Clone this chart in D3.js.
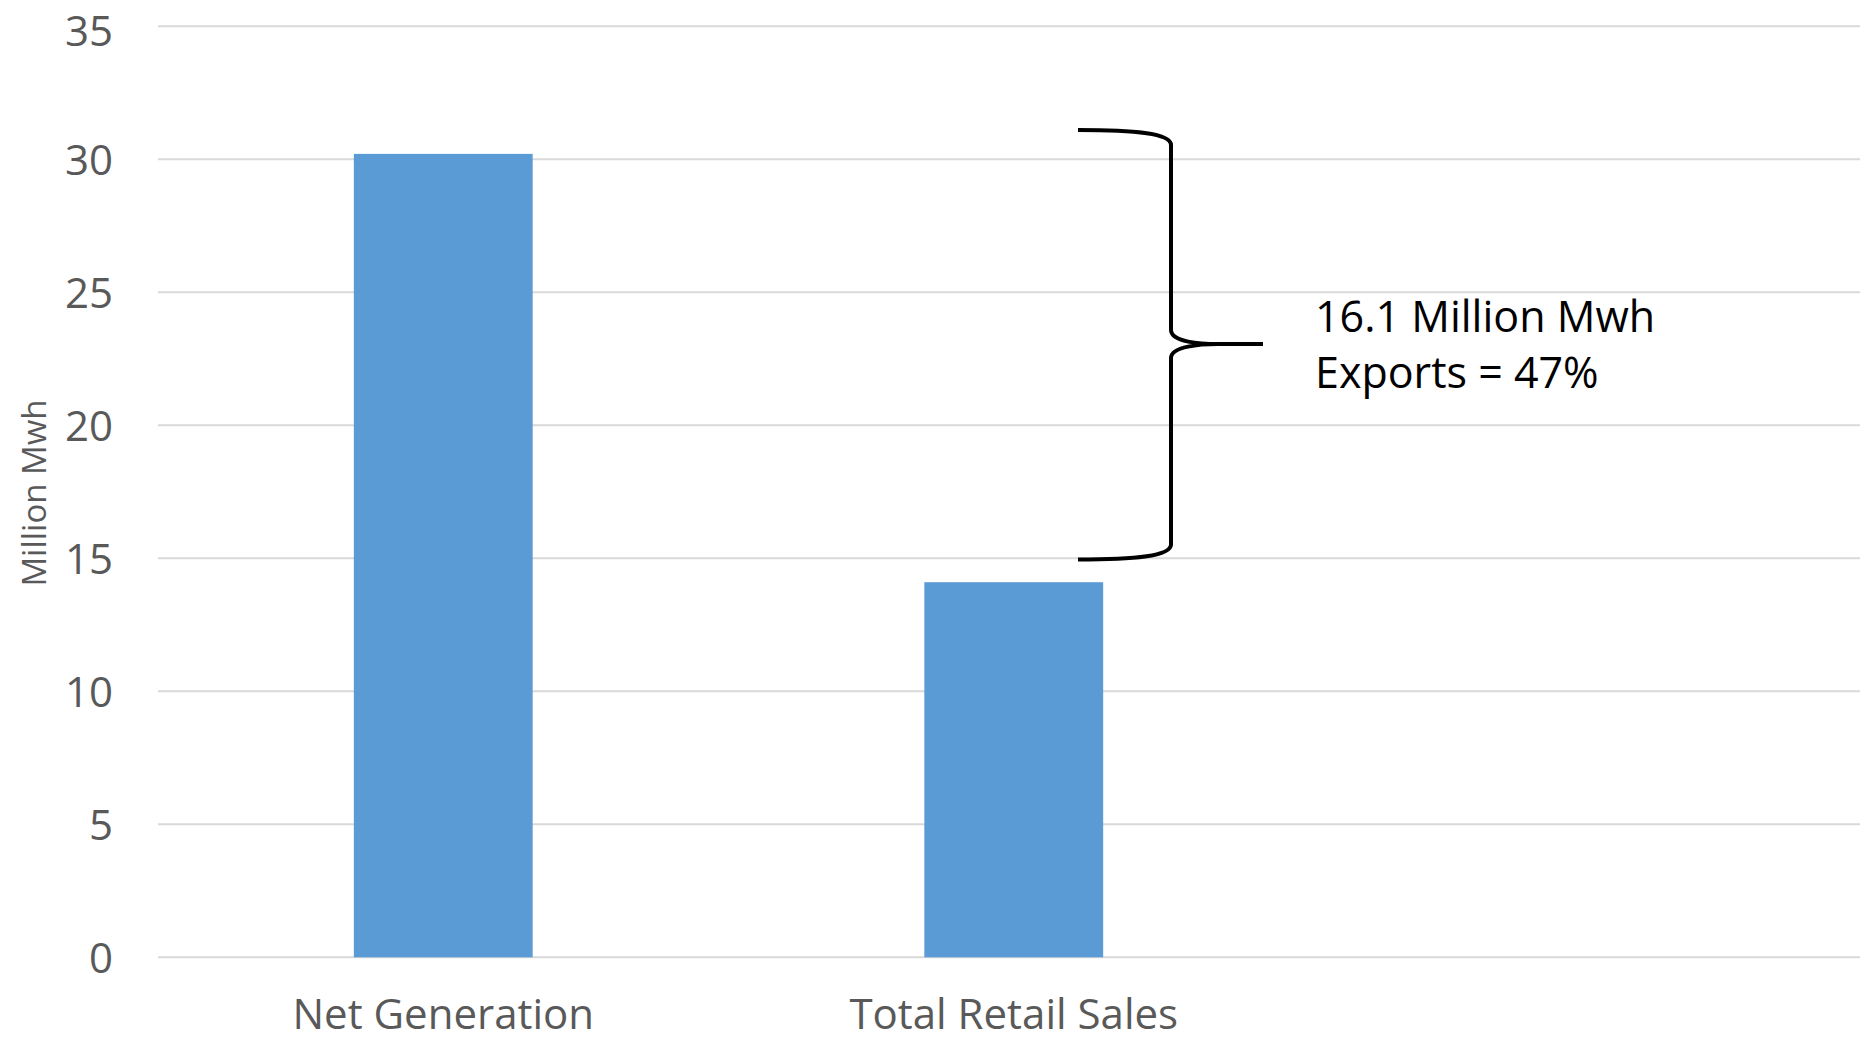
<!DOCTYPE html>
<html>
<head>
<meta charset="utf-8">
<script src="https://cdn.jsdelivr.net/npm/d3@7/dist/d3.min.js"></script>
<style>
  html, body { margin: 0; padding: 0; background: #fff; }
  svg { display: block; }
</style>
</head>
<body>
<svg id="chart" width="1860" height="1041"></svg>
<script>
// ---- Data ----
const categories = ["Net Generation", "Total Retail Sales"];
const values = [30.2, 14.1];
const yTicks = [0, 5, 10, 15, 20, 25, 30, 35];
const yAxisTitle = "Million Mwh";
const annotationLines = ["16.1 Million Mwh", "Exports = 47%"];
// brace spans (in data units): top end, middle tip, bottom end
const braceValues = [31.1, 23.05, 14.95];

// ---- Layout ----
const W = 1860, H = 1041;
const plotLeft = 158, plotRight = 1860;
const yTop = 26.2, yBottom = 957.3;
const tickFs = 42, catFs = 42, titleFs = 33, annFs = 43;

const svg = d3.select("#chart");
const font = "'Open Sans', 'Noto Sans', sans-serif";

const y = d3.scaleLinear().domain([0, 35]).range([yBottom, yTop]);
const x = d3.scaleBand().domain(categories).range([plotLeft, plotLeft + 2 * 570.5]).padding(0);
const barW = x.bandwidth() / 3.19;

// gridlines
svg.append("g").selectAll("line").data(yTicks).join("line")
  .attr("x1", plotLeft).attr("x2", plotRight)
  .attr("y1", d => y(d)).attr("y2", d => y(d))
  .attr("stroke", "#d9d9d9").attr("stroke-width", 2);

// y axis labels (via d3 axis, domain & ticks hidden)
const yAxis = svg.append("g")
  .attr("transform", `translate(113,0)`)
  .call(d3.axisLeft(y).tickValues(yTicks).tickSize(0).tickPadding(0).tickFormat(d3.format("d")));
yAxis.select(".domain").remove();
yAxis.selectAll("text")
  .attr("font-family", font).attr("font-size", tickFs).attr("fill", "#595959")
  .attr("dy", d => {
    // keep the text box inside the picture (top label)
    const base = y(d) + 0.36 * tickFs;
    const minBase = 1.07 * tickFs + 1;
    return (Math.max(base, minBase) - y(d)) + "px";
  });

// bars
svg.append("g").selectAll("rect").data(values).join("rect")
  .attr("x", (d, i) => x(categories[i]) + x.bandwidth() / 2 - barW / 2)
  .attr("width", barW)
  .attr("y", d => y(d))
  .attr("height", d => y(0) - y(d))
  .attr("fill", "#5B9BD5");

// x axis labels
const xAxis = svg.append("g")
  .attr("transform", `translate(0,${yBottom})`)
  .call(d3.axisBottom(x).tickSize(0).tickPadding(0));
xAxis.select(".domain").remove();
xAxis.selectAll("text")
  .attr("font-family", font).attr("font-size", catFs).attr("fill", "#595959")
  .attr("y", H - yBottom - 0.27 * catFs - 1).attr("dy", 0);

// y axis title
svg.append("text")
  .attr("transform", `translate(46,493) rotate(-90)`)
  .attr("text-anchor", "middle")
  .attr("font-family", font).attr("font-size", titleFs).attr("fill", "#595959")
  .text(yAxisTitle);

// brace
const bTop = y(braceValues[0]), bMid = y(braceValues[1]), bBot = y(braceValues[2]);
const xEnd = 1078, xV = 1171, xTip = 1263;
const p = d3.path();
p.moveTo(xEnd, bTop);
p.bezierCurveTo(xEnd + 55, bTop, xV, bTop + 3, xV, bTop + 15);
p.lineTo(xV, bMid - 14);
p.bezierCurveTo(xV, bMid - 2, xV + 30, bMid, xTip - 45, bMid);
p.lineTo(xTip, bMid);
p.moveTo(xTip - 45, bMid);
p.bezierCurveTo(xV + 30, bMid, xV, bMid + 2, xV, bMid + 14);
p.lineTo(xV, bBot - 15);
p.bezierCurveTo(xV, bBot - 3, xEnd + 55, bBot, xEnd, bBot);
svg.append("path")
  .attr("d", p.toString())
  .attr("fill", "none").attr("stroke", "#000").attr("stroke-width", 4)
  .attr("stroke-linejoin", "round");

// annotation text
svg.append("g").selectAll("text").data(annotationLines).join("text")
  .attr("x", 1315)
  .attr("y", (d, i) => 332 + i * 56)
  .attr("font-family", font).attr("font-size", annFs).attr("fill", "#000")
  .text(d => d);
</script>
</body>
</html>
